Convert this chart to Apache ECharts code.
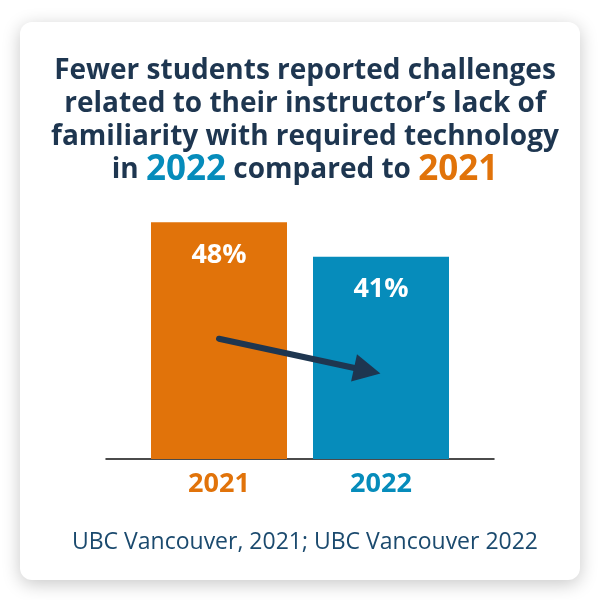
<!DOCTYPE html>
<html>
<head>
<meta charset="utf-8">
<script src="https://cdn.jsdelivr.net/npm/echarts@6/dist/echarts.min.js"></script>
<style>
  html, body { margin: 0; padding: 0; background: #ffffff; }
  #chart { width: 600px; height: 600px; }
</style>
</head>
<body>
<div id="chart"></div>
<script>
// chart data
var years = ['2021', '2022'];
var shares = [48, 41];
var barColors = ['#E1730A', '#068CBB'];
// arrow ends, in (year index, percent) units
var arrowFrom = [0, 24.4];
var arrowTo = [0.915, 17.9];

var navy = '#1E3650';
var font = 'Open Sans';

var chart = echarts.init(document.getElementById('chart'));

var option = {
  backgroundColor: '#ffffff',
  animation: false,
  graphic: [{
    type: 'rect',
    z: -10,
    shape: { x: 20, y: 22, width: 560, height: 558, r: 12 },
    style: {
      fill: '#ffffff',
      shadowBlur: 18,
      shadowColor: 'rgba(0,0,0,0.22)',
      shadowOffsetY: 4
    }
  }],
  title: [{
    text: 'Fewer students reported challenges\nrelated to their instructor\u2019s lack of\nfamiliarity with required technology\n' +
          '{p|in }{b|2022}{p| compared to }{o|2021}',
    left: 300,
    top: 50,
    textAlign: 'center',
    textStyle: {
      fontFamily: font,
      fontWeight: 'bold',
      fontSize: 28,
      color: navy,
      lineHeight: 33,
      rich: {
        p: { fontFamily: font, fontWeight: 'bold', fontSize: 28, color: navy, lineHeight: 33 },
        b: { fontFamily: font, fontWeight: 'bold', fontSize: 35, color: '#068CBB', lineHeight: 33 },
        o: { fontFamily: font, fontWeight: 'bold', fontSize: 35, color: '#E1730A', lineHeight: 33 }
      }
    }
  }, {
    text: 'UBC Vancouver, 2021; UBC Vancouver 2022',
    left: 300,
    top: 526,
    textAlign: 'center',
    textStyle: {
      fontFamily: font,
      fontWeight: 'normal',
      fontSize: 23,
      color: '#1B4A6E'
    }
  }],
  grid: [
    { left: 138, right: 138, top: 212.5, bottom: 141 },
    { left: 106, right: 106, top: 212.5, bottom: 141 }
  ],
  xAxis: [{
    type: 'value',
    gridIndex: 0,
    min: -0.5,
    max: 1.5,
    splitLine: { show: false },
    axisLine: { show: false },
    axisTick: { show: false },
    axisLabel: {
      customValues: [0, 1],
      margin: 12,
      fontFamily: font,
      fontWeight: 'bold',
      fontSize: 27,
      formatter: function (v) { return years[Math.round(v)]; },
      color: function (v) { return barColors[Math.round(v)]; }
    }
  }, {
    type: 'category',
    gridIndex: 1,
    data: [],
    axisLine: { show: true, lineStyle: { color: '#111111', width: 1.5 } },
    axisTick: { show: false },
    axisLabel: { show: false }
  }],
  yAxis: [{
    type: 'value',
    gridIndex: 0,
    min: 0,
    max: 50,
    show: false
  }, {
    type: 'value',
    gridIndex: 1,
    min: 0,
    max: 50,
    show: false
  }],
  series: [{
    type: 'bar',
    xAxisIndex: 0,
    yAxisIndex: 0,
    barWidth: 136,
    data: shares.map(function (v, i) {
      return { value: [i, v], itemStyle: { color: barColors[i] } };
    }),
    label: {
      show: true,
      position: 'insideTop',
      distance: 19,
      formatter: function (p) { return p.value[1] + '%'; },
      fontFamily: font,
      fontWeight: 'bold',
      fontSize: 27,
      color: '#ffffff'
    },
    markLine: {
      silent: true,
      symbol: ['none', 'triangle'],
      symbolSize: [28, 27],
      label: { show: false },
      lineStyle: { color: navy, width: 6, type: 'solid', cap: 'round' },
      data: [[{ coord: arrowFrom }, { coord: arrowTo }]]
    }
  }]
};

chart.setOption(option);
</script>
</body>
</html>
